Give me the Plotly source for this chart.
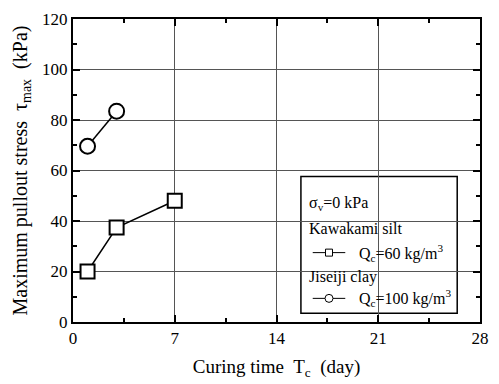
import plotly.graph_objects as go

# Data
silt_days = [1, 3, 7]
silt_stress = [20.0, 37.4, 48.0]
clay_days = [1, 3]
clay_stress = [69.6, 83.5]

x_ticks = [0, 7, 14, 21, 28]
y_ticks = [0, 20, 40, 60, 80, 100, 120]

FONT = "Times New Roman, Liberation Serif, serif"

fig = go.Figure()

fig.add_trace(go.Scatter(
    x=silt_days, y=silt_stress, mode="lines+markers",
    line=dict(color="black", width=1.5),
    marker=dict(symbol="square", size=14, color="white", line=dict(color="black", width=2)),
    showlegend=False, cliponaxis=False))
fig.add_trace(go.Scatter(
    x=clay_days, y=clay_stress, mode="lines+markers",
    line=dict(color="black", width=1.5),
    marker=dict(symbol="circle", size=15, color="white", line=dict(color="black", width=2)),
    showlegend=False, cliponaxis=False))

# Legend (manual box)
lx0, lx1, ly0, ly1 = 0.560, 0.944, 0.029, 0.480
fig.add_shape(type="rect", xref="paper", yref="paper", x0=lx0, x1=lx1, y0=ly0, y1=ly1,
              line=dict(color="black", width=1.5), fillcolor="white", layer="between")

tx = 0.574
samp_x = [0.589, 0.669]
samp_mid = 0.629
qx = 0.697
rows = {"sigma": 0.392, "silt": 0.307, "q60": 0.229, "clay": 0.147, "q100": 0.078}

# legend sample lines/markers on overlay axes spanning [0,1]
fig.add_trace(go.Scatter(x=samp_x, y=[rows["q60"]] * 2, mode="lines", xaxis="x2", yaxis="y2",
                         line=dict(color="black", width=1), showlegend=False, hoverinfo="skip"))
fig.add_trace(go.Scatter(x=[samp_mid], y=[rows["q60"]], mode="markers", xaxis="x2", yaxis="y2",
                         marker=dict(symbol="square", size=7, color="white", line=dict(color="black", width=1)),
                         showlegend=False, hoverinfo="skip"))
fig.add_trace(go.Scatter(x=samp_x, y=[rows["q100"]] * 2, mode="lines", xaxis="x2", yaxis="y2",
                         line=dict(color="black", width=1), showlegend=False, hoverinfo="skip"))
fig.add_trace(go.Scatter(x=[samp_mid], y=[rows["q100"]], mode="markers", xaxis="x2", yaxis="y2",
                         marker=dict(symbol="circle", size=8, color="white", line=dict(color="black", width=1)),
                         showlegend=False, hoverinfo="skip"))

def ann(x, y, text):
    fig.add_annotation(x=x, y=y, xref="paper", yref="paper", text=text, showarrow=False,
                       xanchor="left", yanchor="middle", font=dict(family=FONT, size=16, color="black"))

ann(tx, rows["sigma"], "σ<sub>v</sub>=0 kPa")
ann(tx, rows["silt"], "Kawakami silt")
ann(qx, rows["q60"], "Q<sub>c</sub>=60 kg/m<sup>3</sup>")
ann(tx, rows["clay"], "Jiseiji clay")
ann(qx, rows["q100"], "Q<sub>c</sub>=100 kg/m<sup>3</sup>")

axis_common = dict(
    showline=True, linecolor="black", linewidth=2, mirror="allticks",
    ticks="inside", ticklen=7, tickwidth=2, tickcolor="black",
    showgrid=True, gridcolor="#555555", gridwidth=1, zeroline=False,
    tickfont=dict(family=FONT, size=17, color="black"),
)

fig.update_layout(
    width=499, height=384,
    margin=dict(l=73, r=10, t=16, b=62),
    plot_bgcolor="white", paper_bgcolor="white",
    font=dict(family=FONT, color="black"),
    xaxis=dict(range=[0, 28], tickvals=x_ticks, ticktext=[str(v) for v in x_ticks],
               minor=dict(dtick=3.5, tick0=0, ticks="inside", ticklen=4, tickwidth=2, tickcolor="black", showgrid=False),
               title=dict(text="Curing time  T<sub>c</sub>  (day)", font=dict(family=FONT, size=19), standoff=12),
               **axis_common),
    yaxis=dict(range=[0, 120], tickvals=y_ticks, ticktext=[str(v) for v in y_ticks],
               minor=dict(dtick=10, tick0=0, ticks="inside", ticklen=4, tickwidth=2, tickcolor="black", showgrid=False),
               title=dict(text="Maximum pullout stress  τ<sub>max</sub>  (kPa)", font=dict(family=FONT, size=20), standoff=9),
               **axis_common),
    xaxis2=dict(range=[0, 1], overlaying="x", visible=False, domain=[0, 1]),
    yaxis2=dict(range=[0, 1], overlaying="y", visible=False),
)

fig.write_html("out.html")
